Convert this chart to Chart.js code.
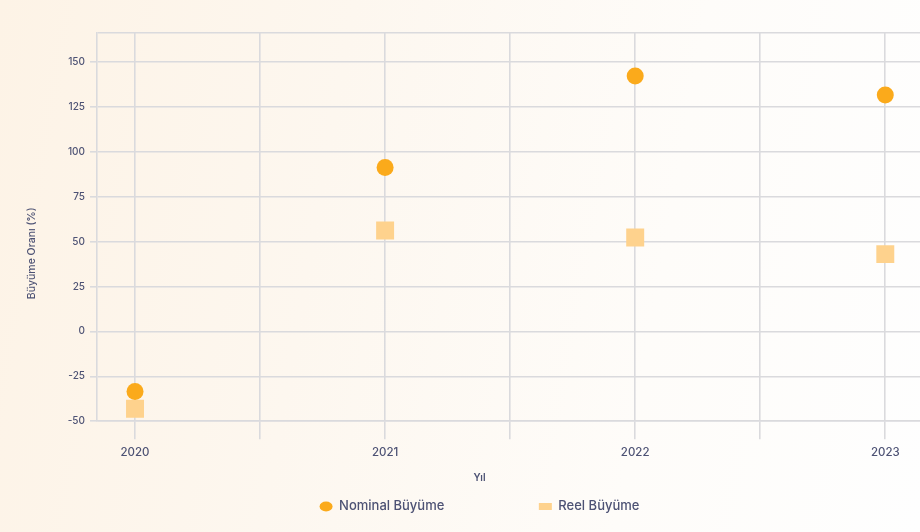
<!DOCTYPE html>
<html lang="tr">
<head>
  <meta charset="UTF-8" />
  <title>Nominal ve Reel Büyüme</title>
  <script src="https://cdn.jsdelivr.net/npm/chart.js"></script>
  <style>
    html, body { margin: 0; width: 920px; height: 532px; overflow: hidden; }
    body {
      background: linear-gradient(100deg, #fdf3e6 0%, #fdf7ef 35%, #fefcf9 70%, #fefefe 100%);
      position: relative;
    }
    #wrap { position: absolute; left: 26px; top: 0; width: 907px; height: 532px; }
  </style>
</head>
<body>
  <div id="wrap"><canvas id="growthChart"></canvas></div>

  <script>
    // yıllar ve büyüme oranları (%)
    const years = [2020, 2021, 2022, 2023];
    const nominalGrowth = [-33.5, 91.3, 142.4, 131.8];
    const realGrowth = [-43.1, 56.3, 52.4, 43.1];
    const seriesNames = ['Nominal Büyüme', 'Reel Büyüme'];

    // eksen çizgileri
    const xTicks = [2020, 2020.5, 2021, 2021.5, 2022, 2022.5, 2023];
    const yTicks = [-50, -25, 0, 25, 50, 75, 100, 125, 150];
    const yTop = 166.3;

    const textColor = '#4d5274';
    const gridColor = '#dadadd';

    Chart.defaults.font.family = 'Inter, "Open Sans", sans-serif';
    Chart.defaults.color = textColor;

    const toPoints = (vals) => vals.map((v, i) => ({ x: years[i], y: v }));

    new Chart(document.getElementById('growthChart'), {
      type: 'scatter',
      data: {
        datasets: [
          {
            label: seriesNames[0],
            data: toPoints(nominalGrowth),
            pointStyle: 'circle',
            pointRadius: 8.5,
            pointHoverRadius: 8.5,
            backgroundColor: '#fbaa1b',
            borderColor: '#fbaa1b',
            borderWidth: 0,
          },
          {
            label: seriesNames[1],
            data: toPoints(realGrowth),
            pointStyle: 'rect',
            pointRadius: 12.7,
            pointHoverRadius: 12.7,
            backgroundColor: '#fed28d',
            borderColor: '#fed28d',
            borderWidth: 0,
          },
        ],
      },
      options: {
        responsive: true,
        maintainAspectRatio: false,
        animation: false,
        layout: { padding: { top: 33, bottom: 9, left: 0, right: 0 } },
        scales: {
          x: {
            type: 'linear',
            min: 2019.848,
            max: 2023.14,
            afterBuildTicks: (scale) => {
              scale.ticks = xTicks.map((v) => ({ value: v }));
            },
            ticks: {
              maxRotation: 0,
              autoSkip: false,
              padding: 6,
              font: { size: 11.5, weight: 500 },
              callback: (v) => (Number.isInteger(v) ? String(v) : ''),
            },
            grid: { color: gridColor, lineWidth: 1.6, tickLength: 18 },
            border: { color: gridColor, width: 1.6 },
          },
          y: {
            min: -50,
            max: yTop,
            afterBuildTicks: (scale) => {
              scale.ticks = yTicks.concat([yTop]).map((v) => ({ value: v }));
            },
            afterFit: (scale) => {
              scale.width = 71;
            },
            ticks: {
              padding: 5,
              font: { size: 10, weight: 500 },
              callback: (v) => (v > 150 ? '' : v),
            },
            grid: {
              color: gridColor,
              lineWidth: 1.6,
              tickLength: 7,
              tickColor: (ctx) => (ctx.tick && ctx.tick.value > 150 ? 'rgba(0,0,0,0)' : gridColor),
            },
            border: { color: gridColor, width: 1.6 },
            title: {
              display: true,
              text: 'Büyüme Oranı (%)' + '\u2003'.repeat(5),
              font: { size: 10.5, weight: 500 },
              padding: { top: 0, bottom: 0 },
            },
          },
        },
        plugins: {
          tooltip: { enabled: false },
          legend: {
            position: 'bottom',
            title: {
              display: true,
              text: 'Yıl',
              font: { size: 10, weight: 600 },
              padding: { top: 8, bottom: 5 },
            },
            labels: {
              usePointStyle: true,
              pointStyleWidth: 13,
              boxHeight: 7,
              padding: 10,
              font: { size: 13, weight: 500 },
              generateLabels: (chart) => {
                const items = Chart.defaults.plugins.legend.labels.generateLabels(chart);
                // boşluk: iki seri arasını açmak için
                items[0].text += '\u2003'.repeat(6) + '\u2002';
                return items;
              },
            },
          },
        },
      },
    });
  </script>
</body>
</html>
